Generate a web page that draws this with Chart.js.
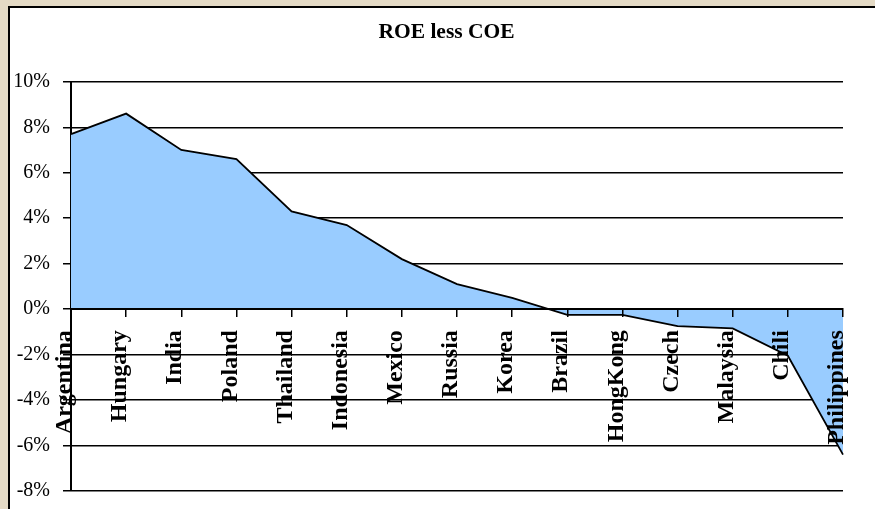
<!DOCTYPE html>
<html>
<head>
<meta charset="utf-8">
<script src="https://cdn.jsdelivr.net/npm/chart.js@4/dist/chart.umd.min.js"></script>
<style>
  html, body { margin: 0; padding: 0; background: #E4DAC5; width: 875px; height: 509px; overflow: hidden; }
  #panel { position: absolute; left: 8px; top: 6px; right: 0; bottom: 0; background: #fff;
           border-left: 2px solid #000; border-top: 2px solid #000; }
  #c { position: absolute; left: 0; top: 0; }
</style>
</head>
<body>
<div id="panel"></div>
<canvas id="c" width="875" height="509"></canvas>
<script>
const chartTitle = 'ROE less COE';
const categories = ['Argentina', 'Hungary', 'India', 'Poland', 'Thailand', 'Indonesia', 'Mexico',
  'Russia', 'Korea', 'Brazil', 'HongKong', 'Czech', 'Malaysia', 'Chili', 'Philippines'];
const roeLessCoe = [7.7, 8.6, 7.0, 6.6, 4.3, 3.7, 2.2, 1.1, 0.5, -0.25, -0.25, -0.75, -0.85, -2.05, -6.4];
const yTickValues = [-8, -6, -4, -2, 0, 2, 4, 6, 8, 10];

const serif = "'Liberation Serif', 'Times New Roman', serif";

new Chart(document.getElementById('c'), {
  type: 'line',
  data: {
    labels: categories,
    datasets: [{
      label: chartTitle,
      data: roeLessCoe,
      yAxisID: 'y',
      fill: 'origin',
      backgroundColor: '#99CCFF',
      borderColor: '#000000',
      borderWidth: 1.8,
      pointRadius: 0,
      tension: 0
    }]
  },
  options: {
    responsive: false,
    animation: false,
    devicePixelRatio: 1,
    layout: { padding: { left: 12, right: -6, top: 0, bottom: 18 } },
    plugins: {
      legend: { display: false },
      tooltip: { enabled: false },
      title: {
        display: true,
        text: chartTitle,
        color: '#000',
        font: { family: serif, size: 21.5, weight: 'bold', lineHeight: 1.2 },
        padding: { top: 20, bottom: 36 }
      }
    },
    scales: {
      y: {
        position: 'left',
        min: Math.min(...yTickValues),
        max: Math.max(...yTickValues),
        afterFit: (s) => { s.width = 59; s.paddingTop = 0; s.paddingBottom = 0; },
        afterBuildTicks: (s) => { s.ticks = yTickValues.map(v => ({ value: v })); },
        ticks: {
          color: '#000',
          font: { family: serif, size: 20 },
          padding: 13,
          callback: (v) => v + '%'
        },
        grid: { color: '#000', lineWidth: 1.5, tickLength: 8, drawTicks: true },
        border: { display: true, color: '#000', width: 2 }
      },
      yRight: {
        position: 'right',
        display: true,
        min: Math.min(...yTickValues),
        max: Math.max(...yTickValues),
        afterFit: (s) => { s.width = 38; s.paddingTop = 0; s.paddingBottom = 0; },
        ticks: { display: false },
        grid: { display: false },
        border: { display: false }
      },
      x: {
        position: { y: 0 },
        offset: false,
        afterFit: (s) => { s.paddingLeft = 0; s.paddingRight = 0; },
        ticks: {
          autoSkip: false,
          maxRotation: 90,
          minRotation: 90,
          color: '#000',
          font: { family: serif, size: 24, weight: 'bold' },
          padding: 14,
          labelOffset: -6,
          z: 2
        },
        grid: { drawOnChartArea: false, drawTicks: true, tickLength: 7, color: '#000', lineWidth: 1.5, z: 1 },
        border: { display: true, color: '#000', width: 2, z: 1 }
      }
    }
  }
});
</script>
</body>
</html>
